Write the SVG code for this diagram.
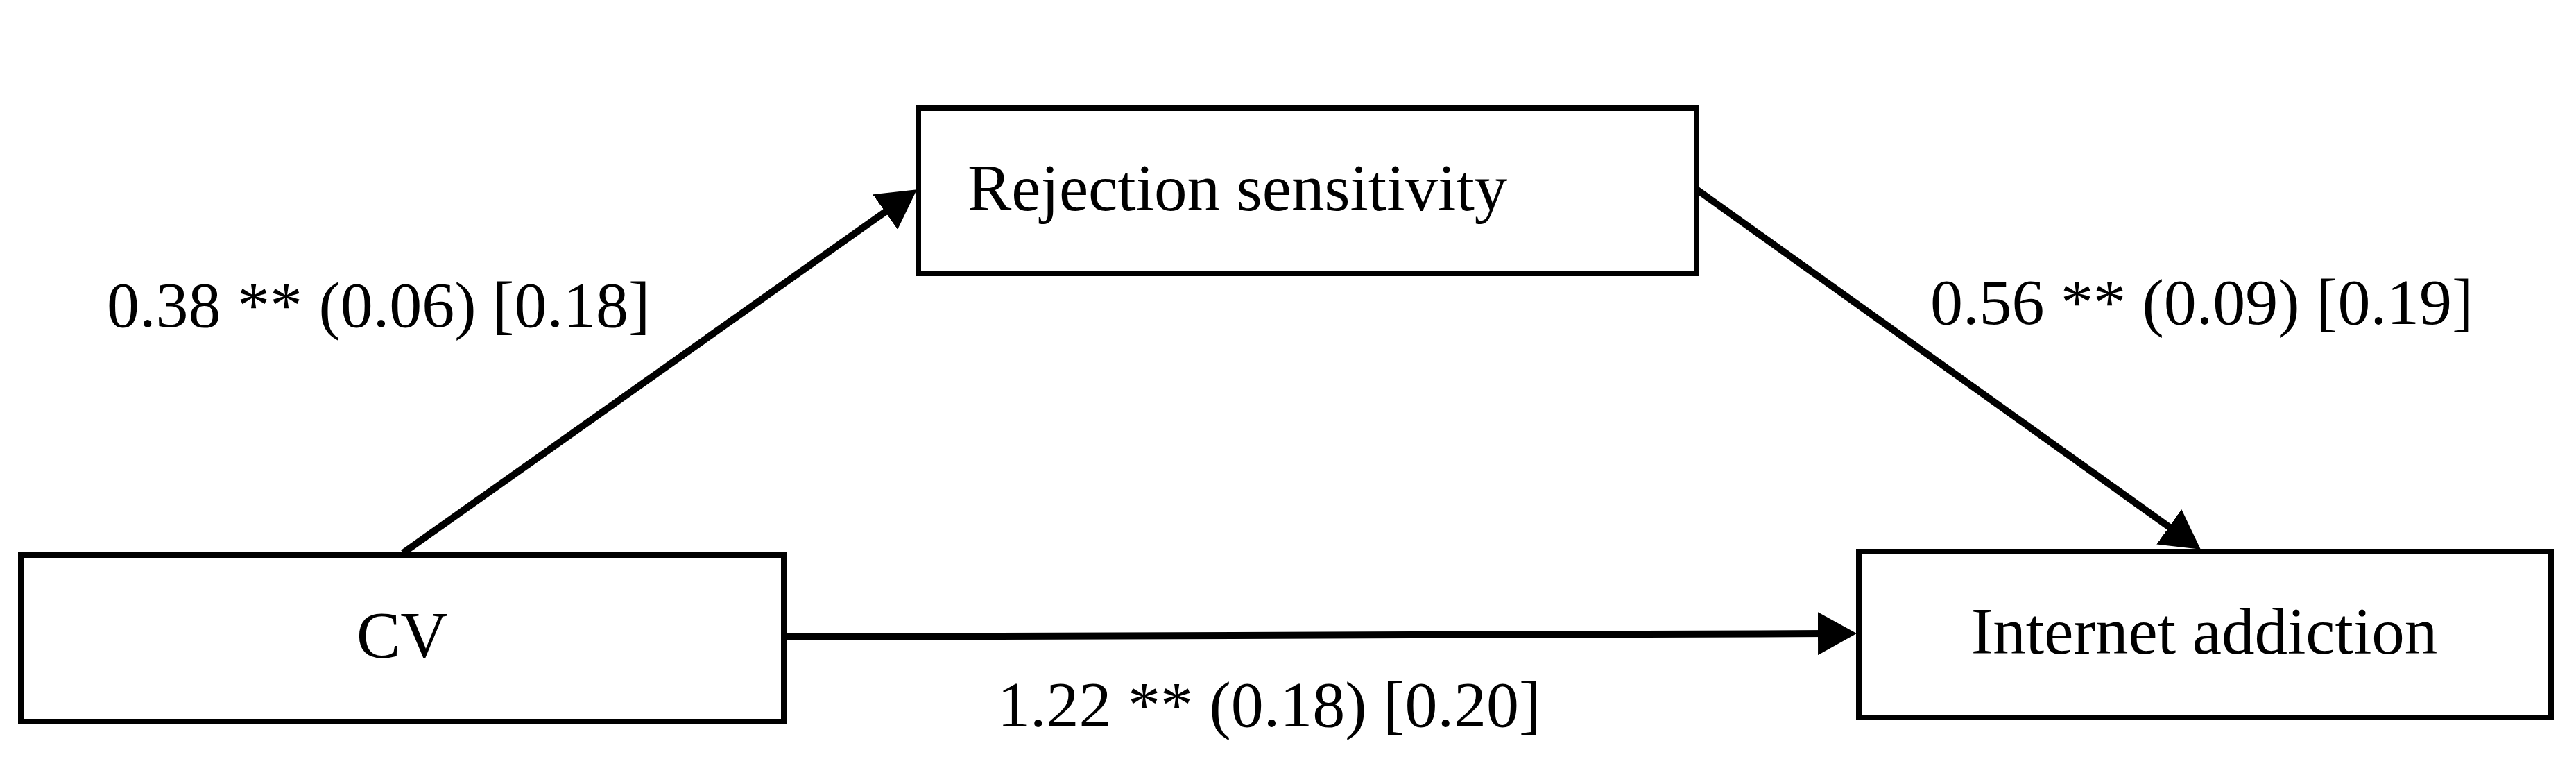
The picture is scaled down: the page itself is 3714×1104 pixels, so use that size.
<svg xmlns="http://www.w3.org/2000/svg" width="3714" height="1104" viewBox="0 0 3714 1104">
<style>
.box{fill:#fff;stroke:#000;stroke-width:8}
.node{font-family:"Liberation Serif","Times New Roman",serif;font-size:95px;fill:#000}
.lbl{font-family:"Liberation Serif","Times New Roman",serif;font-size:94px;fill:#000}
.edge{fill:none;stroke:#000;stroke-width:10}
</style>
<defs>
<marker id="arr" markerUnits="userSpaceOnUse" markerWidth="56" markerHeight="62" refX="12" refY="31" orient="auto" viewBox="0 0 56 62">
<path d="M0,0 L56,31 L0,62 z" fill="#000"/>
</marker>
</defs>
<rect width="3714" height="1104" fill="#fff"/>
<g id="node-cv">
<rect class="box" x="30" y="800" width="1100" height="240"/>
<text class="node" x="580" y="948" text-anchor="middle">CV</text>
</g>
<g id="node-rs">
<rect class="box" x="1324" y="156" width="1122" height="238"/>
<text class="node" x="1395" y="303">Rejection sensitivity</text>
</g>
<g id="node-ia">
<rect class="box" x="2680" y="795" width="998" height="239"/>
<text class="node" x="3178" y="942" text-anchor="middle">Internet addiction</text>
</g>
<g id="connectors">
<line class="edge" x1="581" y1="797" x2="1286" y2="298.6" marker-end="url(#arr)"/>
<line class="edge" x1="2446" y1="273" x2="3137" y2="766.3" marker-end="url(#arr)"/>
<line class="edge" x1="1134" y1="918" x2="2633" y2="913.1" marker-end="url(#arr)"/>
</g>
<g id="labels">
<text class="lbl" x="154" y="471">0.38 ** (0.06) [0.18]</text>
<text class="lbl" x="2783" y="467">0.56 ** (0.09) [0.19]</text>
<text class="lbl" x="1438" y="1047">1.22 ** (0.18) [0.20]</text>
</g>
</svg>
